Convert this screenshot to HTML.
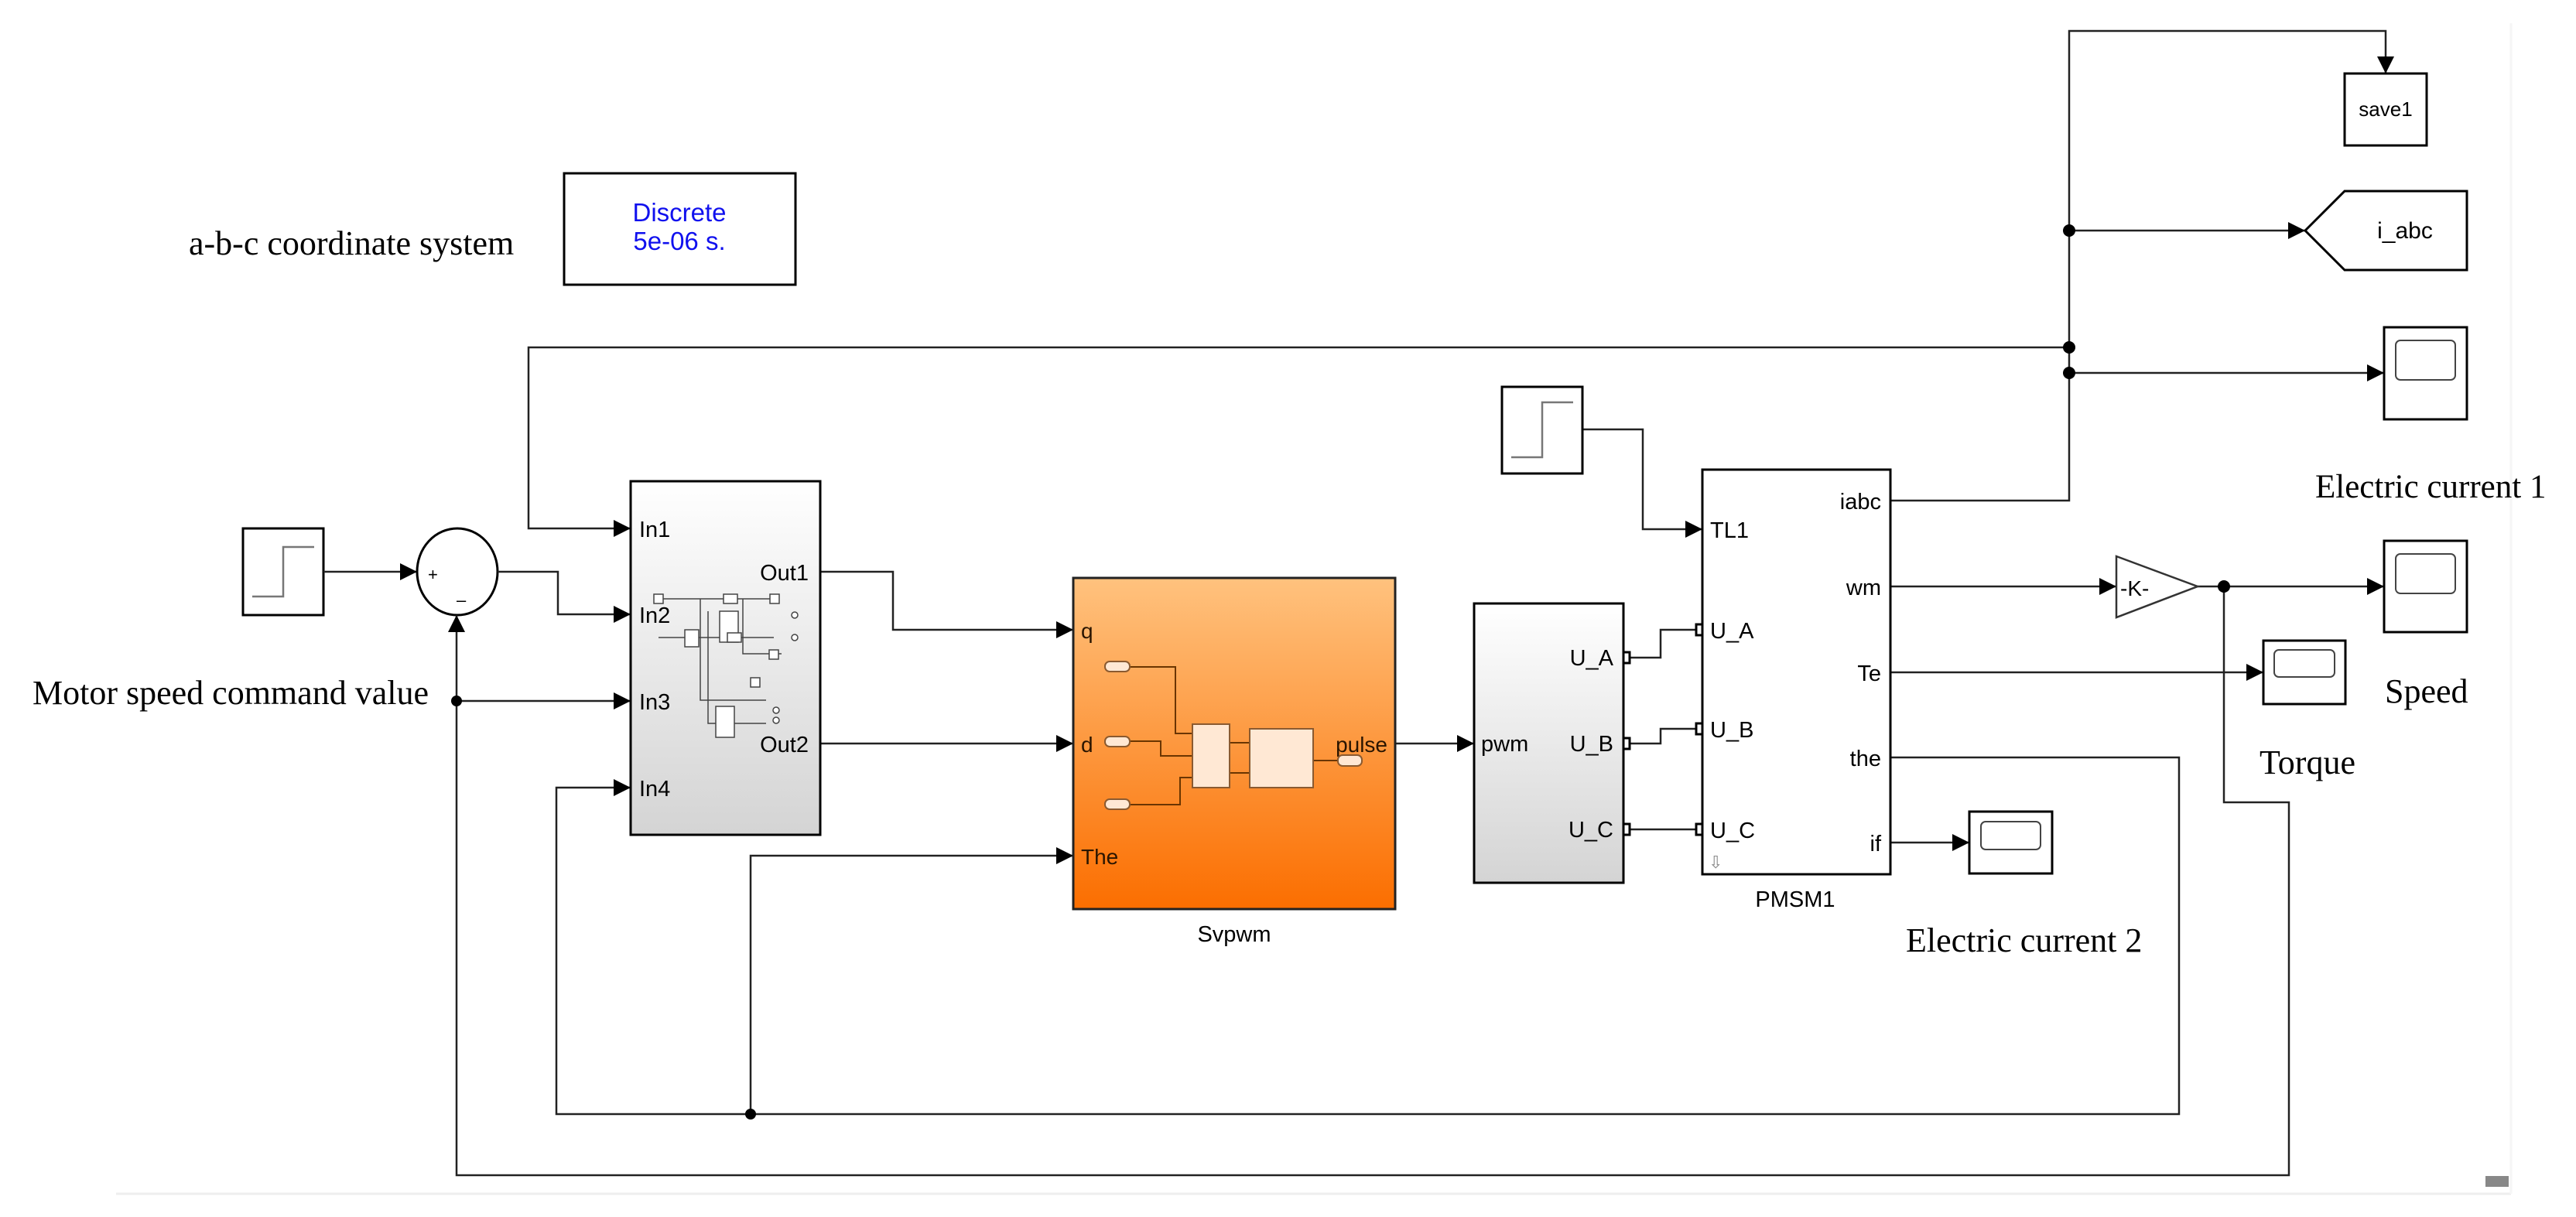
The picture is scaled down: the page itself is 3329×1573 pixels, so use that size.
<!DOCTYPE html>
<html><head><meta charset="utf-8"><style>
html,body{margin:0;padding:0;background:#fff}
svg{display:block}
.a{font-family:"Liberation Sans",Arial,sans-serif}
.s{font-family:"Liberation Serif","Times New Roman",serif}
</style></head><body>
<svg width="3329" height="1573" viewBox="0 0 3329 1573" xmlns="http://www.w3.org/2000/svg">
<defs>
<linearGradient id="og" x1="0" y1="0" x2="0" y2="1"><stop offset="0" stop-color="#ffc27e"/><stop offset="1" stop-color="#fb6e00"/></linearGradient>
<linearGradient id="gg" x1="0" y1="0" x2="0" y2="1"><stop offset="0" stop-color="#ffffff"/><stop offset="1" stop-color="#d4d4d4"/></linearGradient>
<marker id="ar" viewBox="0 0 10 10" refX="10" refY="5" markerWidth="22" markerHeight="22" markerUnits="userSpaceOnUse" orient="auto"><path d="M0,0 L10,5 L0,10 z" fill="#000"/></marker>
</defs>
<rect width="3329" height="1573" fill="#fff"/>
<line x1="150" y1="1543" x2="3245" y2="1543" stroke="#eee" stroke-width="3"/>
<line x1="3245" y1="30" x2="3245" y2="1543" stroke="#f6f6f6" stroke-width="3"/>
<rect x="3212" y="1520" width="30" height="14" fill="#888"/>

<text x="244" y="329" class="s" font-size="44">a-b-c coordinate system</text>
<text x="42" y="910" class="s" font-size="44">Motor speed command value</text>
<text x="2992" y="643" class="s" font-size="43">Electric current 1</text>
<text x="3082" y="908" class="s" font-size="44">Speed</text>
<text x="2920" y="1000" class="s" font-size="44">Torque</text>
<text x="2463" y="1230" class="s" font-size="44">Electric current 2</text>

<rect x="729" y="224" width="299" height="144" fill="#fff" stroke="#000" stroke-width="3"/>
<text x="878" y="286" class="a" font-size="33" fill="#1010ee" text-anchor="middle">Discrete</text>
<text x="878" y="323" class="a" font-size="33" fill="#1010ee" text-anchor="middle">5e-06 s.</text>

<g fill="none" stroke="#222" stroke-width="2.5">
<rect x="314" y="683" width="104" height="112" fill="#fff" stroke="#000" stroke-width="3"/>
<polyline points="326,771 366,771 366,707 406,707" stroke="#777"/>
<line x1="418" y1="739" x2="539" y2="739" marker-end="url(#ar)"/>
<ellipse cx="591" cy="739" rx="52" ry="56" fill="#fff" stroke="#000" stroke-width="3"/>
<polyline points="643,739 721,739 721,794 815,794" marker-end="url(#ar)"/>
<polyline points="2874,758 2874,1037 2958,1037 2958,1519 590,1519 590,795" marker-end="url(#ar)"/>
<line x1="590" y1="906" x2="815" y2="906" marker-end="url(#ar)"/>
<polyline points="2674,449 683,449 683,683 815,683" marker-end="url(#ar)"/>
<polyline points="2443,979 2816,979 2816,1440 719,1440 719,1018 815,1018" marker-end="url(#ar)"/>
<polyline points="970,1440 970,1106 1387,1106" marker-end="url(#ar)"/>
<polyline points="1060,739 1154,739 1154,814 1387,814" marker-end="url(#ar)"/>
<line x1="1060" y1="961" x2="1387" y2="961" marker-end="url(#ar)"/>
<line x1="1803" y1="961" x2="1905" y2="961" marker-end="url(#ar)"/>
<polyline points="2106,850 2146,850 2146,814 2192,814"/>
<polyline points="2106,961 2146,961 2146,942 2192,942"/>
<line x1="2106" y1="1072" x2="2192" y2="1072"/>
<polyline points="2045,555 2123,555 2123,684 2200,684" marker-end="url(#ar)"/>
<polyline points="2443,647 2674,647 2674,40 3083,40 3083,95" marker-end="url(#ar)"/>
<line x1="2674" y1="298" x2="2979" y2="298" marker-end="url(#ar)"/>
<line x1="2674" y1="482" x2="3081" y2="482" marker-end="url(#ar)"/>
<line x1="2443" y1="758" x2="2735" y2="758" marker-end="url(#ar)"/>
<line x1="2840" y1="758" x2="3081" y2="758" marker-end="url(#ar)"/>
<line x1="2443" y1="869" x2="2925" y2="869" marker-end="url(#ar)"/>
<line x1="2443" y1="1089" x2="2545" y2="1089" marker-end="url(#ar)"/>
</g>
<g fill="#000">
<circle cx="590" cy="906" r="7"/><circle cx="970" cy="1440" r="7"/>
<circle cx="2674" cy="298" r="8"/><circle cx="2674" cy="449" r="8"/><circle cx="2674" cy="482" r="8"/>
<circle cx="2874" cy="758" r="8"/>
</g>
<text x="553" y="750" class="a" font-size="22">+</text>
<text x="590" y="783" class="a" font-size="22">–</text>

<rect x="815" y="622" width="245" height="457" fill="url(#gg)" stroke="#000" stroke-width="3"/>
<g class="a" font-size="29">
<text x="826" y="694">In1</text><text x="826" y="805">In2</text><text x="826" y="917">In3</text><text x="826" y="1029">In4</text>
<text x="1045" y="750" text-anchor="end">Out1</text><text x="1045" y="972" text-anchor="end">Out2</text>
</g>
<g fill="#fff" stroke="#444" stroke-width="1.5">
<polyline points="851,774 1000,774" fill="none"/><polyline points="851,824 1000,824" fill="none"/>
<polyline points="905,774 905,905 990,905" fill="none"/><polyline points="915,790 915,935 990,935" fill="none"/>
<polyline points="960,774 960,845 1010,845" fill="none"/>
<rect x="845" y="768" width="12" height="12"/><rect x="935" y="768" width="18" height="12"/><rect x="995" y="768" width="12" height="12"/>
<rect x="930" y="790" width="24" height="40"/><rect x="885" y="814" width="18" height="22"/><rect x="940" y="818" width="18" height="12"/>
<rect x="994" y="840" width="12" height="12"/><rect x="970" y="876" width="12" height="12"/>
<rect x="925" y="913" width="24" height="40"/>
<circle cx="1027" cy="795" r="4"/><circle cx="1027" cy="824" r="4"/><circle cx="1003" cy="918" r="4"/><circle cx="1003" cy="931" r="4"/>
</g>

<rect x="1387" y="747" width="416" height="428" fill="url(#og)" stroke="#222" stroke-width="3"/>
<g class="a" font-size="28" fill="#2a1500">
<text x="1397" y="825">q</text><text x="1397" y="972">d</text><text x="1397" y="1117">The</text>
<text x="1793" y="972" text-anchor="end">pulse</text>
</g>
<g fill="none" stroke="#6a3500" stroke-width="2">
<polyline points="1460,862 1519,862 1519,948 1541,948"/>
<polyline points="1460,958 1500,958 1500,977 1541,977"/>
<polyline points="1460,1040 1525,1040 1525,1005 1541,1005"/>
<line x1="1589" y1="960" x2="1615" y2="960"/><line x1="1589" y1="999" x2="1615" y2="999"/>
<line x1="1697" y1="983" x2="1729" y2="983"/>
</g>
<g fill="#ffe8d4" stroke="#8a5a30" stroke-width="2">
<rect x="1428" y="855" width="32" height="13" rx="6"/><rect x="1428" y="952" width="32" height="13" rx="6"/><rect x="1428" y="1033" width="32" height="13" rx="6"/>
<rect x="1541" y="936" width="48" height="82"/><rect x="1615" y="942" width="82" height="76"/>
<rect x="1729" y="976" width="31" height="14" rx="6"/>
</g>
<text x="1595" y="1217" class="a" font-size="29" text-anchor="middle">Svpwm</text>

<rect x="1905" y="780" width="193" height="361" fill="url(#gg)" stroke="#000" stroke-width="3"/>
<g class="a" font-size="29">
<text x="1914" y="971">pwm</text>
<text x="2085" y="860" text-anchor="end">U_A</text><text x="2085" y="971" text-anchor="end">U_B</text><text x="2085" y="1082" text-anchor="end">U_C</text>
</g>
<g fill="#fff" stroke="#000" stroke-width="3">
<rect x="2098" y="843" width="8" height="14"/><rect x="2098" y="954" width="8" height="14"/><rect x="2098" y="1065" width="8" height="14"/>
<rect x="2192" y="807" width="8" height="14"/><rect x="2192" y="935" width="8" height="14"/><rect x="2192" y="1065" width="8" height="14"/>
</g>

<rect x="1941" y="500" width="104" height="112" fill="#fff" stroke="#000" stroke-width="3"/>
<polyline points="1953,591 1993,591 1993,520 2033,520" fill="none" stroke="#777" stroke-width="2.5"/>

<rect x="2200" y="607" width="243" height="523" fill="#fff" stroke="#000" stroke-width="3"/>
<g class="a" font-size="29">
<text x="2210" y="695">TL1</text><text x="2210" y="825">U_A</text><text x="2210" y="953">U_B</text><text x="2210" y="1083">U_C</text>
<text x="2431" y="658" text-anchor="end">iabc</text><text x="2431" y="769" text-anchor="end">wm</text><text x="2431" y="880" text-anchor="end">Te</text>
<text x="2431" y="990" text-anchor="end">the</text><text x="2431" y="1100" text-anchor="end">if</text>
</g>
<text x="2208" y="1122" class="a" font-size="22" fill="#888">⇩</text>
<text x="2320" y="1172" class="a" font-size="29" text-anchor="middle">PMSM1</text>

<rect x="3030" y="95" width="106" height="93" fill="#fff" stroke="#000" stroke-width="3"/>
<text x="3083" y="150" class="a" font-size="26" text-anchor="middle">save1</text>
<polygon points="2979,298 3030,247 3188,247 3188,349 3030,349" fill="#fff" stroke="#000" stroke-width="3"/>
<text x="3108" y="308" class="a" font-size="30" text-anchor="middle">i_abc</text>

<g fill="#fff" stroke="#000" stroke-width="3">
<rect x="3081" y="423" width="107" height="119"/><rect x="3096" y="440" width="77" height="51" rx="6" stroke="#444" stroke-width="2"/>
<rect x="3081" y="699" width="107" height="118"/><rect x="3096" y="716" width="77" height="51" rx="6" stroke="#444" stroke-width="2"/>
<rect x="2925" y="828" width="106" height="82"/><rect x="2939" y="840" width="78" height="35" rx="6" stroke="#444" stroke-width="2"/>
<rect x="2545" y="1049" width="107" height="80"/><rect x="2560" y="1062" width="77" height="36" rx="6" stroke="#444" stroke-width="2"/>
</g>
<polygon points="2735,719 2840,758 2735,798" fill="#fff" stroke="#333" stroke-width="2.5"/>
<text x="2740" y="770" class="a" font-size="28">-K-</text>
</svg>
</body></html>
